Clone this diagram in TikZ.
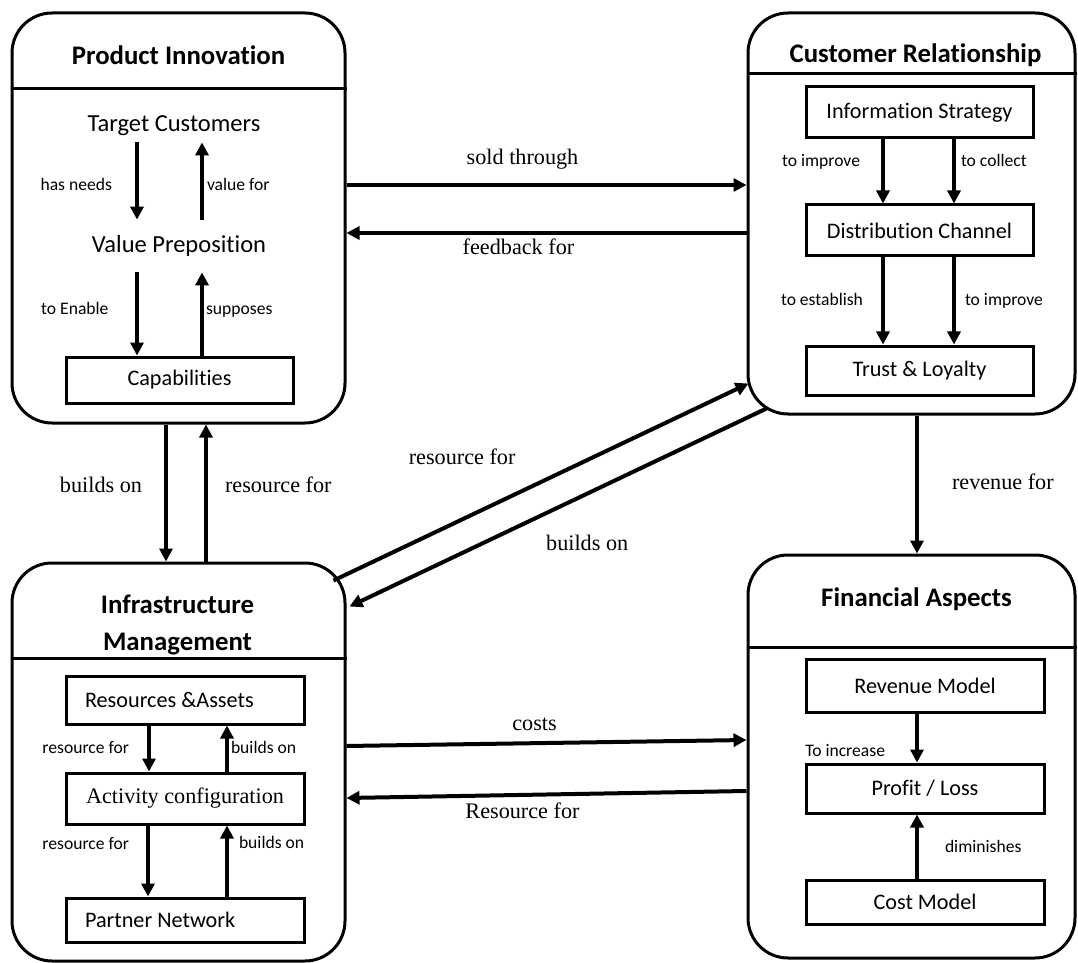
\documentclass[tikz,border=0pt]{standalone}
\usepackage{fontspec}
\setmainfont{Carlito}[Ligatures=NoCommon]
\newfontfamily\timesfont{Liberation Serif}
\usetikzlibrary{arrows.meta}

\begin{document}
\begin{tikzpicture}[x=0.5pt, y=-0.5pt]
    % Define styles
    \tikzstyle{grp} = [draw, line width=1.5pt, rounded corners=20pt, inner sep=0pt]
    \tikzstyle{head} = [font=\fontsize{13.4}{18.5}\selectfont\bfseries, align=center]
    \tikzstyle{inbox} = [draw, line width=1.5pt, minimum width=119pt, inner sep=0pt, font=\fontsize{11.1}{13}\selectfont]
    \tikzstyle{bigtxt} = [font=\fontsize{12.25}{14}\selectfont, inner sep=0pt]
    \tikzstyle{lbl} = [font=\fontsize{8.8}{10}\selectfont, inner sep=0pt, text height=0.7em, text depth=0.2em]
    \tikzstyle{rel} = [font=\timesfont\fontsize{11.1}{13}\selectfont, inner sep=0pt, text height=0.7em, text depth=0.2em]
    \tikzstyle{arr} = [line width=2pt, -{Triangle[length=6.5pt,width=6.5pt]}]

    \useasboundingbox (0,0) rectangle (1078,963);

    % Group boxes
    \node[grp, minimum width=166.5pt, minimum height=205pt] (pi) at (178.5,218) {};
    \node[grp, minimum width=163.5pt, minimum height=200.5pt] (cr) at (911.5,213.5) {};
    \node[grp, minimum width=166.5pt, minimum height=199pt] (im) at (178.5,762) {};
    \node[grp, minimum width=163.5pt, minimum height=201.5pt] (fa) at (911.5,756.5) {};

    % Header lines and titles
    \draw[line width=1.5pt] (pi.west |- 0,89) -- (pi.east |- 0,89);
    \draw[line width=1.5pt] (cr.west |- 0,74) -- (cr.east |- 0,74);
    \draw[line width=1.5pt] (im.west |- 0,658) -- (im.east |- 0,658);
    \draw[line width=1.5pt] (fa.west |- 0,647) -- (fa.east |- 0,647);
    \node[head] (pi-t) at (178.5,55) {Product Innovation};
    \node[head] (cr-t) at (915.5,55) {Customer Relationship};
    \node[head] (im-t) at (177.5,624.5) {Infrastructure\\Management};
    \node[head] (fa-t) at (916.5,599) {Financial Aspects};

    % Product innovation
    \node[bigtxt, minimum height=16pt] (tc) at (174,126) {Target Customers};
    \node[bigtxt, minimum height=26pt] (vp) at (179,246) {Value Preposition};
    \node[inbox, minimum width=113.5pt, minimum height=23pt] (cap) at (179.5,380) {Capabilities};
    \draw[arr] ([xshift=-18.5pt]tc.south) -- ([xshift=-21pt]vp.north) node[lbl, pos=0.56, left=11.5pt] {has needs};
    \draw[arr] ([xshift=11.5pt]vp.north) -- ([xshift=14pt]tc.south) node[lbl, pos=0.44, right=1.5pt] {value for};
    \draw[arr] ([xshift=-21pt]vp.south) -- ([xshift=-21.25pt]cap.north) node[lbl, pos=0.45, left=13.25pt] {to Enable};
    \draw[arr] ([xshift=11.25pt]cap.north) -- ([xshift=11.5pt]vp.south) node[lbl, pos=0.55, right=1pt] {supposes};

    % Customer relationship
    \node[inbox, minimum width=113.5pt, minimum height=25.5pt] (is) at (919.5,112.5) {Information Strategy};
    \node[inbox, minimum width=113.5pt, minimum height=25.5pt] (dc) at (919.5,230.5) {Distribution Channel};
    \node[inbox, minimum width=113.5pt, minimum height=24.5pt] (tl) at (919.5,370.5) {Trust \& Loyalty};
    \draw[arr] ([xshift=-18.25pt]is.south) -- ([xshift=-18.25pt]dc.north) node[lbl, pos=0.35, left=10.5pt] {to improve};
    \draw[arr] ([xshift=17.25pt]is.south) -- ([xshift=17.25pt]dc.north) node[lbl, pos=0.35, right=2.5pt] {to collect};
    \draw[arr] ([xshift=-18.25pt]dc.south) -- ([xshift=-18.25pt]tl.north) node[lbl, midway, left=9pt] {to establish};
    \draw[arr] ([xshift=17.25pt]dc.south) -- ([xshift=17.25pt]tl.north) node[lbl, midway, right=4.5pt] {to improve};

    % Infrastructure management
    \node[inbox, minimum height=24pt, text width=100pt, inner xsep=9.5pt, align=flush left] (ra) at (185,700) {Resources \&Assets};
    \node[inbox, minimum height=25.5pt, font=\timesfont\fontsize{11.1}{13}\selectfont] (ac) at (185,798.5) {Activity configuration};
    \node[inbox, minimum height=22pt, text width=100pt, inner xsep=9.5pt, align=flush left] (pn) at (185,920) {Partner Network};
    \draw[arr] ([xshift=-18pt]ra.south) -- ([xshift=-18pt]ac.north) node[lbl, midway, left=9pt] {resource for};
    \draw[arr] ([xshift=21pt]ac.north) -- ([xshift=21pt]ra.south) node[lbl, midway, right=1pt] {builds on};
    \draw[arr] ([xshift=-18.5pt]ac.south) -- ([xshift=-18.5pt]pn.north) node[lbl, pos=0.27, left=8.5pt] {resource for};
    \draw[arr] ([xshift=21pt]pn.north) -- ([xshift=21pt]ac.south) node[lbl, pos=0.74, right=5pt] {builds on};

    % Financial aspects
    \node[inbox, minimum height=26.5pt] (rm) at (925,685.5) {Revenue Model};
    \node[inbox, minimum height=24.5pt] (pl) at (925,788.5) {Profit / Loss};
    \node[inbox, minimum height=22pt] (cm) at (925,902) {Cost Model};
    \draw[arr] ([xshift=-4pt]rm.south) -- ([xshift=-4pt]pl.north) node[lbl, pos=0.77, left=15pt] {To increase};
    \draw[arr] ([xshift=-4pt]cm.north) -- ([xshift=-4pt]pl.south) node[lbl, pos=0.48, right=13pt] {diminishes};

    % Links between groups
    \draw[arr] ([xshift=-6.25pt]pi.south) -- ([xshift=-6.25pt]im.north) node[rel, pos=0.46, left=11pt] {builds on};
    \draw[arr] ([xshift=13.75pt]im.north) -- ([xshift=13.75pt]pi.south) node[rel, pos=0.54, right=8.5pt] {resource for};
    \draw[arr] ([yshift=16.5pt]pi.east) -- ([yshift=14.25pt]cr.west) node[rel, pos=0.44, above=7pt] {sold through};
    \draw[arr] ([yshift=-9.75pt]cr.west) -- ([yshift=-7.5pt]pi.east) node[rel, pos=0.57, below=3pt] {feedback for};
    \draw[arr] ([xshift=-6.5pt,yshift=-9.5pt]im.north east) -- ([xshift=1pt,yshift=16pt]cr.south west) node[rel, pos=0.31, above=24.5pt] {resource for};
    \draw[arr] ([xshift=10pt,yshift=3.5pt]cr.south west) -- ([xshift=1.5pt,yshift=-22.5pt]im.north east) node[rel, pos=0.43, below=20.5pt] {builds on};
    \draw[arr] ([xshift=2.75pt]cr.south) -- ([xshift=2.75pt]fa.north) node[rel, midway, right=16.5pt] {revenue for};
    \draw[arr] ([yshift=8pt]im.east) -- ([yshift=8.25pt]fa.west) node[rel, pos=0.47, above=3.5pt] {costs};
    \draw[arr] ([yshift=-17.25pt]fa.west) -- ([yshift=-18pt]im.east) node[rel, pos=0.56, below=4pt] {Resource for};
\end{tikzpicture}
\end{document}
